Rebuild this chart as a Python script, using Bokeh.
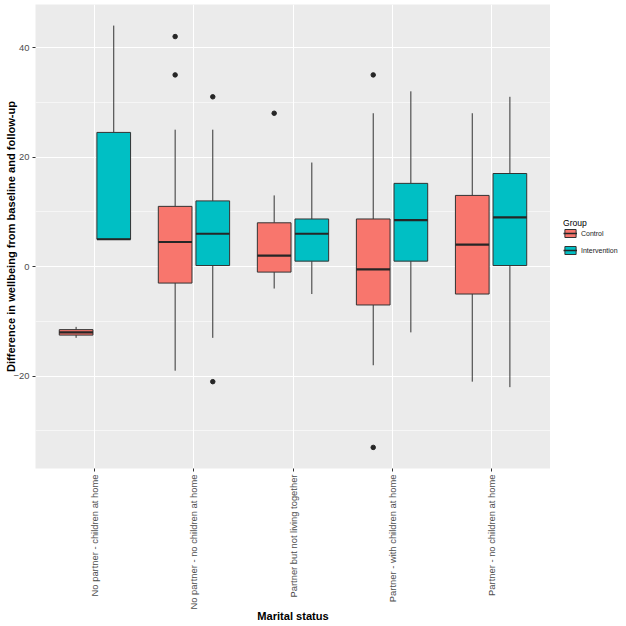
import math
from bokeh.plotting import figure
from bokeh.layouts import row
from bokeh.models import (FactorRange, Range1d, FixedTicker, ColumnDataSource,
                          Legend, LegendItem)
from bokeh.transform import dodge
from bokeh.embed import file_html
from bokeh.resources import INLINE

# ---------------- data ----------------
categories = [
    "No partner - children at home",
    "No partner - no children at home",
    "Partner but not living together",
    "Partner - with children at home",
    "Partner - no children at home",
]
groups = ["Control", "Intervention"]

control_lower = [-13, -19, -4, -18, -21]
control_q1 = [-12.5, -3, -1, -7, -5]
control_median = [-12, 4.5, 2, -0.5, 4]
control_q3 = [-11.5, 11, 8, 8.7, 13]
control_upper = [-11, 25, 13, 28, 28]
control_outlier_cat = [categories[1], categories[1], categories[2], categories[3], categories[3]]
control_outlier_val = [42, 35, 28, 35, -33]

intervention_lower = [5, -13, -5, -12, -22]
intervention_q1 = [5, 0.2, 1, 1, 0.2]
intervention_median = [5, 6, 6, 8.5, 9]
intervention_q3 = [24.5, 12, 8.7, 15.2, 17]
intervention_upper = [44, 25, 19, 32, 31]
intervention_outlier_cat = [categories[1], categories[1]]
intervention_outlier_val = [31, -21]

y_ticks = [-20, 0, 20, 40]
y_minor = [-30, -10, 10, 30]

# ---------------- main figure ----------------
FONT = "Liberation Sans"
p = figure(
    x_range=FactorRange(factors=categories, range_padding=0.04, range_padding_units="percent"),
    y_range=Range1d(-36.85, 47.85),
    width=550, height=626,
    min_border_left=35, min_border_right=0, min_border_top=4, min_border_bottom=158,
    output_backend="svg", toolbar_location=None,
)
p.background_fill_color = "#EBEBEB"
p.border_fill_color = "white"
p.outline_line_color = None

p.xgrid.grid_line_color = "white"
p.xgrid.grid_line_width = 1.1
p.ygrid.grid_line_color = "white"
p.ygrid.grid_line_width = 1.1
p.ygrid.minor_grid_line_color = "white"
p.ygrid.minor_grid_line_width = 0.55

p.yaxis.ticker = FixedTicker(ticks=y_ticks, minor_ticks=y_minor)
for ax in (p.xaxis, p.yaxis):
    ax.axis_line_color = None
    ax.major_tick_line_color = "#333333"
    ax.major_tick_out = 3
    ax.major_tick_in = 0
    ax.minor_tick_line_color = None
    ax.major_label_text_font = FONT
    ax.major_label_text_font_size = "9.4px"
    ax.major_label_text_color = "#4D4D4D"
    ax.axis_label_text_font = FONT
    ax.axis_label_text_font_style = "bold"
    ax.axis_label_text_font_size = "11.1px"
    ax.axis_label_text_color = "black"

p.yaxis.major_label_standoff = 2
p.yaxis.axis_label = "Difference in wellbeing from baseline and follow-up"
p.yaxis.axis_label_standoff = -6

p.xaxis.major_label_orientation = math.pi / 2
p.xaxis.major_label_standoff = 3
p.xaxis.axis_label = "Marital status"
p.xaxis.axis_label_standoff = -2
p.xaxis.axis_label_text_line_height = 0.5

# ---------------- boxes ----------------
BOX_W = 0.34
OFF = 0.19
fills = {"Control": "#F8766D", "Intervention": "#00BFC4"}
data = {
    "Control": (control_lower, control_q1, control_median, control_q3, control_upper,
                control_outlier_cat, control_outlier_val, -OFF),
    "Intervention": (intervention_lower, intervention_q1, intervention_median, intervention_q3,
                     intervention_upper, intervention_outlier_cat, intervention_outlier_val, OFF),
}

for g in groups:
    lo, q1, med, q3, up, ocat, oval, off = data[g]
    src = ColumnDataSource(dict(cat=categories, lower=lo, q1=q1, median=med, q3=q3, upper=up))
    xc = dodge("cat", off, range=p.x_range)
    p.segment(x0=xc, x1=xc, y0="q3", y1="upper", source=src, line_color="#333333", line_width=1)
    p.segment(x0=xc, x1=xc, y0="q1", y1="lower", source=src, line_color="#333333", line_width=1)
    p.vbar(x=xc, width=BOX_W, top="q3", bottom="q1", source=src,
           fill_color=fills[g], line_color="#333333", line_width=1)
    p.segment(x0=dodge("cat", off - BOX_W / 2, range=p.x_range),
              x1=dodge("cat", off + BOX_W / 2, range=p.x_range),
              y0="median", y1="median", source=src,
              line_color="#262626", line_width=2.2)
    osrc = ColumnDataSource(dict(cat=ocat, val=oval))
    p.scatter(x=dodge("cat", off, range=p.x_range), y="val", source=osrc,
              size=4.5, fill_color="#262626", line_color="#262626")

# ---------------- legend panel (separate narrow figure) ----------------
lg = figure(width=76, height=626, x_range=Range1d(0, 1), y_range=Range1d(0, 1),
            min_border=0, min_border_top=4, min_border_bottom=158,
            x_axis_location=None, y_axis_location=None,
            output_backend="svg", toolbar_location=None)
lg.outline_line_color = None
lg.grid.visible = False
lg.background_fill_color = "white"
lg.border_fill_color = "white"

legend_items = []
for g in groups:
    # dummy renderers placed outside the visible range: only their legend keys show
    b = lg.vbar(x=[5], width=0.1, top=[5], bottom=[4], fill_color=fills[g],
                line_color="#333333", line_width=1)
    m = lg.segment(x0=[5], x1=[6], y0=[5], y1=[5], line_color="#262626", line_width=1.5)
    legend_items.append(LegendItem(label=g, renderers=[b, m]))

legend = Legend(items=legend_items, location=(13, 213))
legend.title = "Group"
legend.title_text_font = FONT
legend.title_text_font_size = "8.6px"
legend.title_text_font_style = "normal"
legend.title_text_color = "black"
legend.title_standoff = 0
legend.label_text_font = FONT
legend.label_text_font_size = "7px"
legend.label_text_color = "#1A1A1A"
legend.glyph_width = 14
legend.glyph_height = 10
legend.label_height = 10
legend.label_standoff = 4
legend.spacing = 7
legend.padding = 0
legend.margin = 0
legend.border_line_color = None
legend.background_fill_color = None
lg.add_layout(legend, "center")

layout = row(p, lg)
open("out.html", "w").write(file_html(layout, INLINE))
